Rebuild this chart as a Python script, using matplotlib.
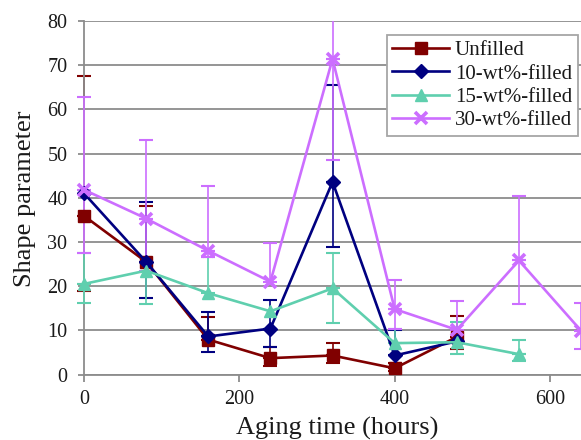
import numpy as np
import matplotlib
matplotlib.use("Agg")
import matplotlib.pyplot as plt
from matplotlib.transforms import Bbox, TransformedBbox

plt.rcParams['font.family'] = ['Liberation Serif', 'DejaVu Serif']

nan = np.nan
hours = [0, 80, 160, 240, 320, 400, 480, 560, 640]

series_names = ["Unfilled", "10-wt%-filled", "15-wt%-filled", "30-wt%-filled"]

unfilled = [35.9, 25.5, 7.9, 3.7, 4.3, 1.4, 8.5, nan, nan]
unfilled_hi = [67.6, 38.2, 12.9, 6.3, 7.1, 2.5, 13.3, nan, nan]
unfilled_lo = [19.0, 25.5, 7.9, 2.0, 2.6, 0.8, 5.8, nan, nan]

filled10 = [41.0, 25.5, 8.6, 10.4, 43.6, 4.3, 7.5, nan, nan]
filled10_hi = [41.0, 39.0, 14.1, 16.9, 65.6, 10.0, 7.5, nan, nan]
filled10_lo = [41.0, 17.2, 5.2, 6.2, 28.8, 4.3, 7.5, nan, nan]

filled15 = [20.5, 23.5, 18.4, 14.3, 19.5, 7.1, 7.3, 4.6, nan]
filled15_hi = [27.4, 23.5, 26.5, 14.3, 27.5, 10.4, 11.8, 7.8, nan]
filled15_lo = [16.1, 15.9, 18.4, 14.3, 11.6, 7.1, 4.6, 3.0, nan]

filled30 = [41.8, 35.3, 28.0, 21.0, 71.4, 14.8, 10.1, 25.8, 9.9]
filled30_hi = [62.9, 53.1, 42.7, 29.8, 90.0, 21.4, 16.6, 40.5, 16.2]
filled30_lo = [27.4, 23.5, 26.5, 21.0, 48.5, 10.4, 10.1, 16.0, 5.8]

x_ticks = [0, 200, 400, 600]
y_ticks = [0, 10, 20, 30, 40, 50, 60, 70, 80]

colors = ["#800000", "#000080", "#5FCFAE", "#CC6EFF"]
markers = ["s", "D", "^", "x"]
msizes = [9, 6.8, 8.5, 9]

W, H = 581, 440
fig = plt.figure(figsize=(W / 100, H / 100), dpi=100)
ax_left, ax_right = 84, 84 + 720 * 0.7767
ax_top, ax_bot = 21.0, 374.5
ax = fig.add_axes([ax_left / W, 1 - ax_bot / H, (ax_right - ax_left) / W, (ax_bot - ax_top) / H])

grid_c = "#8c8c8c"
ax.set_xlim(0, 720)
ax.set_ylim(0, 80)
ax.set_yticks(y_ticks)
ax.set_xticks(x_ticks)
ax.yaxis.grid(True, color=grid_c, lw=1.3)
ax.set_axisbelow(True)
for s in ["top", "right"]:
    ax.spines[s].set_visible(False)
for s in ["left", "bottom"]:
    ax.spines[s].set_color(grid_c)
    ax.spines[s].set_linewidth(1.3)
ax.tick_params(axis='y', direction='out', length=4, width=1.3, color=grid_c,
               labelsize=14.5, pad=8, labelcolor="#1a1a1a")
ax.tick_params(axis='x', direction='out', length=5, width=1.3, color=grid_c,
               labelsize=14.5, pad=6, labelcolor="#1a1a1a")

data = [(unfilled, unfilled_hi, unfilled_lo), (filled10, filled10_hi, filled10_lo),
        (filled15, filled15_hi, filled15_lo), (filled30, filled30_hi, filled30_lo)]

clip_box = TransformedBbox(Bbox([[-0.05, 0.0], [1.0, 1.0]]), ax.transAxes)

x = np.array(hours, dtype=float)
for i, (vals, hi, lo) in enumerate(data):
    v = np.array(vals, dtype=float)
    h = np.array(hi, dtype=float)
    l = np.array(lo, dtype=float)
    up = h - v
    dn = v - l
    up_e = np.where(up > 0.05, up, nan)
    dn_e = np.where(dn > 0.05, dn, nan)
    c = colors[i]
    for yerr in ([np.where(np.isnan(up_e), nan, 0), up_e],
                 [dn_e, np.where(np.isnan(dn_e), nan, 0)]):
        cont = ax.errorbar(x, v, yerr=yerr, fmt='none', ecolor=c, elinewidth=1.2,
                           capsize=5, capthick=1.5, zorder=2 + i)
        for art in list(cont.lines[1]) + list(cont.lines[2]):
            art.set_clip_path(None)
            art.set_clip_on(True)
            art.set_clip_box(clip_box)
    mask = ~np.isnan(v)
    mew = 2.6 if markers[i] == "x" else 1
    ax.plot(x[mask], v[mask], color=c, lw=1.9, marker=markers[i], ms=msizes[i],
            mfc=c, mec=c, mew=mew, label=series_names[i], zorder=6 + i, clip_on=False)

leg = ax.legend(loc='upper right', bbox_to_anchor=(578 / W, 1 - 35 / H),
                bbox_transform=fig.transFigure, borderaxespad=0, fontsize=15,
                frameon=True, fancybox=False, edgecolor="#a6a6a6", framealpha=1,
                handlelength=2.7, handletextpad=0.3, labelspacing=0.18, borderpad=0.28)
leg.get_frame().set_linewidth(1.3)
leg.set_zorder(20)
for t in leg.get_texts():
    t.set_color("#1a1a1a")

fig.text(25 / W, 1 - 198.5 / H, "Shape parameter", rotation=90, ha='center', va='center',
         fontsize=19, color="#1a1a1a")
fig.text(337 / W, 1 - 434.5 / H, "Aging time (hours)", ha='center', va='baseline',
         fontsize=19, color="#1a1a1a")

fig.savefig("out.png", dpi=100)
